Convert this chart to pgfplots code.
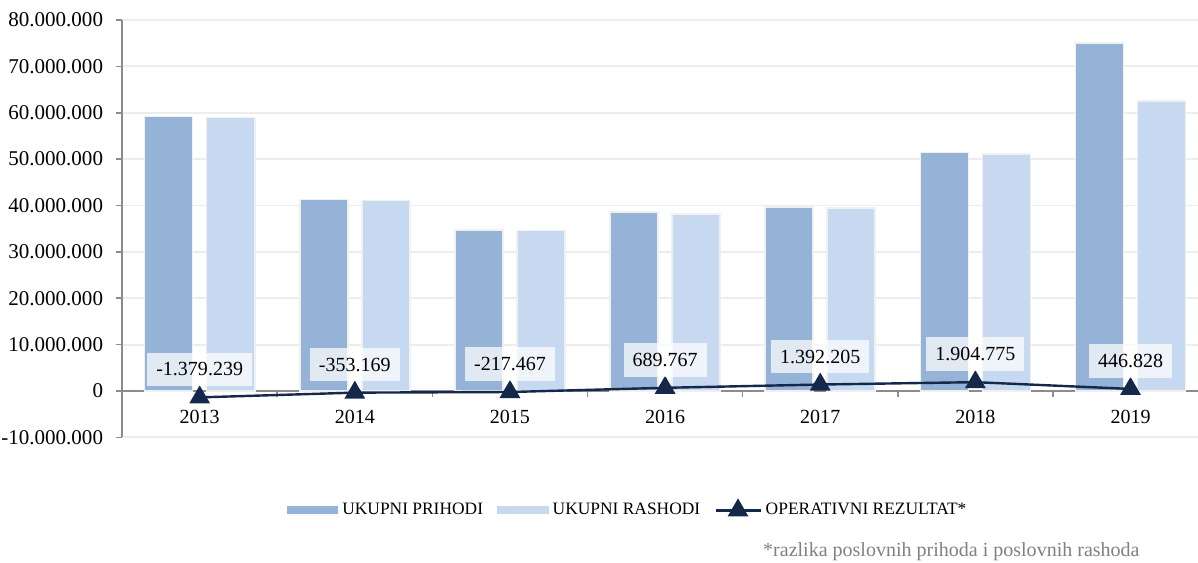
\documentclass[border=0pt]{standalone}
\usepackage{fontspec}
\setmainfont{Liberation Serif}
\usepackage{pgfplots}
\pgfplotsset{compat=1.18}
\definecolor{darkbar}{HTML}{95B3D7}
\definecolor{lightbar}{HTML}{C6D9F1}
\definecolor{navy}{HTML}{14284B}
\definecolor{gridc}{HTML}{EDEDED}
\definecolor{axisc}{HTML}{8C8C8C}
\definecolor{barline}{HTML}{F0F0F0}
\pgfplotsset{
  linelegend/.style={legend image code/.code={\draw[##1, mark repeat=2, mark phase=2] plot coordinates {(0pt,0pt) (11.25pt,0pt) (22.5pt,0pt)};}},
  darklegend/.style={legend image code/.code={\fill[darkbar] (0pt,-1.6pt) rectangle (25pt,1.6pt);}},
  lightlegend/.style={legend image code/.code={\fill[lightbar] (0pt,-1.6pt) rectangle (25pt,1.6pt);}},
}
\begin{document}
\begin{tikzpicture}
\begin{axis}[
  scale only axis, width=537.5pt, height=208.5pt,
  xmin=-0.5, xmax=6.435, ymin=-10000000, ymax=80000000,
  axis x line=middle, axis y line=left,
  axis line style={-, draw=axisc, line width=0.9pt},
  hide obscured x ticks=false, hide obscured y ticks=false,
  xtick={0,1,2,3,4,5,6},
  xticklabels={2013,2014,2015,2016,2017,2018,2019},
  minor xtick={0.5,1.5,2.5,3.5,4.5,5.5},
  major x tick style={draw=none},
  minor x tick style={draw=axisc, line width=0.8pt},
  tick align=outside,
  minor tick length=3pt,
  major tick length=3pt,
  ytick={-10000000,0,10000000,20000000,30000000,40000000,50000000,60000000,70000000,80000000},
  y tick style={draw=axisc, line width=0.8pt},
  scaled y ticks=false,
  y tick label style={/pgf/number format/fixed, /pgf/number format/precision=0,
    /pgf/number format/1000 sep={.}, /pgf/number format/assume math mode=true,
    font=\fontsize{10.5}{12}\selectfont, xshift=-3pt},
  x tick label style={font=\fontsize{10}{12}\selectfont, yshift=-3pt},
  ymajorgrids, grid style={gridc, line width=0.9pt},
  legend style={draw=none, fill=none, legend columns=3, at={(0.4707,-0.175)}, anchor=center,
    font=\fontsize{8.7}{10}\selectfont,
    /tikz/every even column/.append style={column sep=5pt}},
  clip=false,
]
\addplot[ybar, bar width=24pt, bar shift=-15.5pt, fill=darkbar, draw=barline, line width=0.8pt, darklegend]
  coordinates {(0,59200000) (1,41300000) (2,34700000) (3,38600000) (4,39700000) (5,51400000) (6,75000000)};
\addlegendentry{UKUPNI PRIHODI}
\addplot[ybar, bar width=24pt, bar shift=15.5pt, fill=lightbar, draw=barline, line width=0.8pt, lightlegend]
  coordinates {(0,59000000) (1,41100000) (2,34600000) (3,38200000) (4,39500000) (5,51100000) (6,62600000)};
\addlegendentry{UKUPNI RASHODI}
\addplot[navy, line width=1.2pt, mark=triangle*, mark size=4.8pt, mark options={solid, fill=navy},
  point meta=y,
  nodes near coords={\pgfmathprintnumber[fixed, precision=0, 1000 sep={.}, assume math mode=true]{\pgfplotspointmeta}},
  every node near coord/.append style={fill=white, fill opacity=0.72, text opacity=1, text=black,
    inner xsep=4.5pt, inner ysep=5pt, anchor=south, yshift=5pt, font=\fontsize{10}{12}\selectfont},
  linelegend]
  coordinates {(0,-1379239) (1,-353169) (2,-217467) (3,689767) (4,1392205) (5,1904775) (6,446828)};
\addlegendentry{OPERATIVNI REZULTAT*}
\end{axis}
\node[anchor=base east, text=black!50, font=\fontsize{10}{12}\selectfont, inner sep=0pt] at (508.5pt,-59.5pt) {*razlika poslovnih prihoda i poslovnih rashoda};
\pgfresetboundingbox
\path[use as bounding box] (-61pt,-62.5pt) rectangle (537.5pt,218.5pt);
\end{tikzpicture}
\end{document}
